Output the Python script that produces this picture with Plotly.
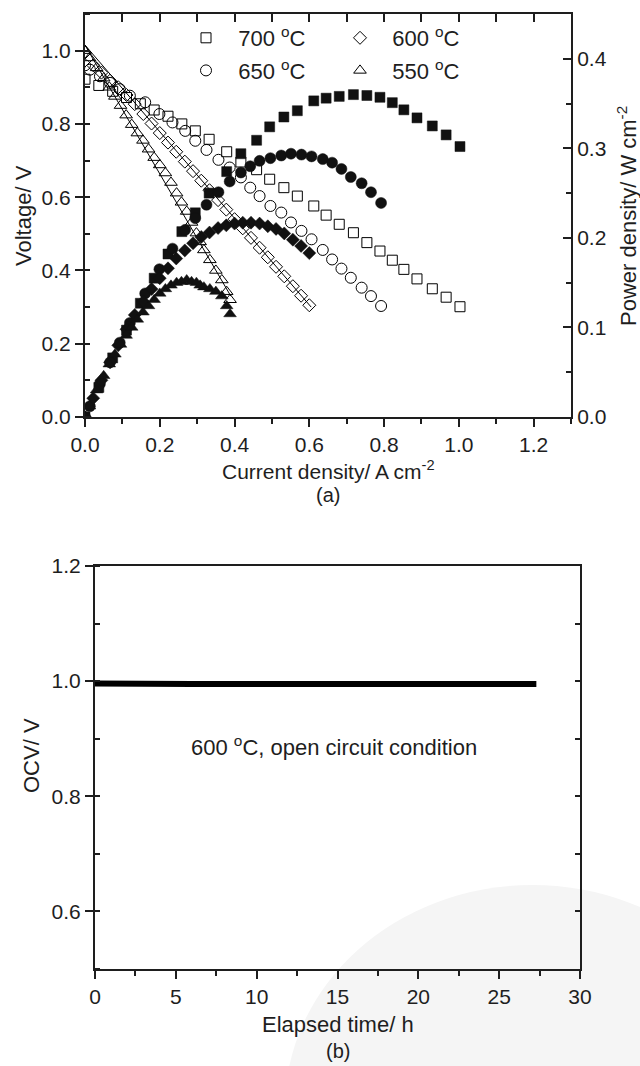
import plotly.graph_objects as go

W, H = 640, 1066

# ---------------- data (a) ----------------
i700 = [0.000, 0.037, 0.074, 0.111, 0.148, 0.185, 0.222, 0.259, 0.295, 0.332, 0.379, 0.417, 0.459, 0.494,
        0.532, 0.568, 0.612, 0.645, 0.680, 0.718, 0.754, 0.789, 0.822, 0.853, 0.888, 0.929, 0.966, 1.003]
v700 = [0.922, 0.905, 0.889, 0.872, 0.855, 0.838, 0.821, 0.800, 0.781, 0.758, 0.724, 0.696, 0.675, 0.649,
        0.626, 0.603, 0.576, 0.551, 0.526, 0.503, 0.476, 0.453, 0.428, 0.403, 0.377, 0.350, 0.327, 0.301]
p700 = [0.000, 0.033, 0.066, 0.097, 0.127, 0.155, 0.182, 0.207, 0.228, 0.250, 0.274, 0.294, 0.309, 0.324,
        0.335, 0.342, 0.353, 0.356, 0.358, 0.360, 0.359, 0.357, 0.351, 0.343, 0.334, 0.325, 0.315, 0.302]

i650 = [0.000, 0.013, 0.040, 0.067, 0.093, 0.120, 0.161, 0.199, 0.234, 0.268, 0.295, 0.325, 0.357, 0.387,
        0.417, 0.442, 0.467, 0.496, 0.525, 0.551, 0.579, 0.606, 0.636, 0.661, 0.686, 0.711, 0.740, 0.765, 0.792]
v650 = [0.960, 0.948, 0.930, 0.912, 0.895, 0.877, 0.859, 0.827, 0.804, 0.781, 0.754, 0.729, 0.702, 0.681,
        0.654, 0.626, 0.603, 0.576, 0.558, 0.531, 0.508, 0.485, 0.456, 0.430, 0.405, 0.380, 0.353, 0.330, 0.303]
p650 = [0.000, 0.012, 0.037, 0.061, 0.083, 0.105, 0.138, 0.165, 0.188, 0.209, 0.222, 0.237, 0.251, 0.263,
        0.273, 0.280, 0.286, 0.289, 0.292, 0.294, 0.293, 0.291, 0.288, 0.284, 0.277, 0.268, 0.261, 0.251, 0.239]

i600 = [0.000, 0.022, 0.044, 0.067, 0.089, 0.111, 0.133, 0.156, 0.178, 0.200, 0.222, 0.244, 0.267, 0.289,
        0.311, 0.333, 0.356, 0.378, 0.400, 0.422, 0.444, 0.467, 0.489, 0.511, 0.533, 0.556, 0.578, 0.600]
v600 = [0.995, 0.960, 0.940, 0.918, 0.900, 0.879, 0.854, 0.827, 0.801, 0.775, 0.749, 0.724, 0.697, 0.671,
        0.645, 0.619, 0.592, 0.566, 0.540, 0.515, 0.489, 0.462, 0.436, 0.410, 0.384, 0.357, 0.331, 0.305]
p600 = [0.000, 0.021, 0.041, 0.061, 0.080, 0.098, 0.114, 0.129, 0.143, 0.155, 0.166, 0.177, 0.186, 0.194,
        0.201, 0.206, 0.211, 0.214, 0.216, 0.217, 0.217, 0.216, 0.213, 0.210, 0.205, 0.198, 0.191, 0.183]

i550 = [0.000, 0.012, 0.031, 0.050, 0.065, 0.080, 0.095, 0.110, 0.125, 0.140, 0.155, 0.170, 0.185, 0.200,
        0.215, 0.230, 0.245, 0.258, 0.272, 0.285, 0.298, 0.308, 0.318, 0.334, 0.350, 0.366, 0.379, 0.388]
v550 = [1.000, 0.980, 0.953, 0.925, 0.900, 0.875, 0.850, 0.824, 0.798, 0.775, 0.755, 0.731, 0.708, 0.688,
        0.666, 0.640, 0.611, 0.586, 0.561, 0.531, 0.502, 0.478, 0.456, 0.429, 0.400, 0.374, 0.342, 0.320]
p550 = [0.000, 0.012, 0.030, 0.046, 0.059, 0.070, 0.081, 0.091, 0.100, 0.109, 0.117, 0.124, 0.131, 0.138,
        0.143, 0.147, 0.150, 0.151, 0.153, 0.151, 0.150, 0.147, 0.145, 0.143, 0.140, 0.135, 0.124, 0.115]

fit600_i = [0.000, 0.605]
fit600_v = [1.015, 0.300]
fit550_i = [0.000, 0.390]
fit550_v = [1.015, 0.330]

legend_names = ["700 <sup>o</sup>C", "650 <sup>o</sup>C", "600 <sup>o</sup>C", "550 <sup>o</sup>C"]

# ---------------- data (b) ----------------
t_h = [0.0, 2.0, 4.0, 6.0, 8.0, 10.0, 12.0, 14.0, 16.0, 18.0, 20.0, 22.0, 24.0, 26.0, 27.3]
ocv = [0.996, 0.995, 0.996, 0.995, 0.995, 0.996, 0.995, 0.995, 0.996, 0.995, 0.995, 0.995, 0.995, 0.995, 0.995]

# ---------------- figure ----------------
FONT = "Liberation Sans, Arial, Helvetica, sans-serif"
AX = "#1e1e1e"
NB = "\u00a0\u00a0"

def px(p):
    return p / W

def py(p):
    return 1 - p / H

fig = go.Figure()

open_specs = [
    (i700, v700, "square-open", 10, legend_names[0], "legend"),
    (i650, v650, "circle-open", 11, legend_names[1], "legend"),
    (i600, v600, "diamond-open", 10, legend_names[2], "legend2"),
    (i550, v550, "triangle-up-open", 11, legend_names[3], "legend2"),
]
for k, (xx, yy, sym, sz, nm, lg) in enumerate(open_specs):
    fig.add_trace(go.Scatter(
        x=xx, y=yy, mode="markers", name=NB + nm, legend=lg, legendgroup="g%d" % k,
        marker=dict(symbol=sym, size=sz, color="black", line=dict(width=1, color="black")),
        xaxis="x", yaxis="y", hoverinfo="skip"))

for xx, yy in [(fit600_i, fit600_v), (fit550_i, fit550_v)]:
    fig.add_trace(go.Scatter(x=xx, y=yy, mode="lines", line=dict(color="black", width=1),
                             showlegend=False, xaxis="x", yaxis="y", hoverinfo="skip"))

filled_specs = [
    (i700, p700, "square", 10),
    (i650, p650, "circle", 11),
    (i600, p600, "diamond", 10),
    (i550, p550, "triangle-up", 11),
]
for xx, yy, sym, sz in filled_specs:
    fig.add_trace(go.Scatter(
        x=xx, y=yy, mode="markers", showlegend=False,
        marker=dict(symbol=sym, size=sz, color="#111111", line=dict(width=0.5, color="#111111")),
        xaxis="x", yaxis="y2", hoverinfo="skip"))

# dummy traces so overlay axes are drawn
fig.add_trace(go.Scatter(x=[0.5], y=[0.5], mode="markers", marker=dict(opacity=0), showlegend=False,
                         xaxis="x3", yaxis="y", hoverinfo="skip"))

fig.add_trace(go.Scatter(x=t_h, y=ocv, mode="lines", line=dict(color="black", width=6),
                         showlegend=False, xaxis="x2", yaxis="y3", hoverinfo="skip"))
fig.add_trace(go.Scatter(x=[5], y=[0.7], mode="markers", marker=dict(opacity=0), showlegend=False,
                         xaxis="x2", yaxis="y4", hoverinfo="skip"))

tickfont = dict(family=FONT, size=21, color=AX)
common = dict(showgrid=False, zeroline=False, showline=True, linecolor=AX, linewidth=2,
              tickcolor=AX, tickwidth=1.5, tickfont=tickfont, automargin=False)

fig.update_layout(
    width=W, height=H, margin=dict(l=0, r=0, t=0, b=0, autoexpand=False),
    paper_bgcolor="white", plot_bgcolor="rgba(0,0,0,0)",
    font=dict(family=FONT, color=AX),
    xaxis=dict(domain=[px(85), px(571)], anchor="y", range=[0, 1.3], tick0=0, dtick=0.2,
               tickformat=".1f", ticks="outside", ticklen=8,
               minor=dict(dtick=0.1, ticks="outside", ticklen=5, tickcolor=AX, tickwidth=1.5), **common),
    xaxis3=dict(overlaying="x", side="top", anchor="y", range=[0, 1.3], tick0=0, dtick=0.1,
                ticks="inside", ticklen=8, showticklabels=False, **common),
    yaxis=dict(domain=[py(417), py(14)], anchor="x", range=[0, 1.1], tick0=0, dtick=0.2,
               tickformat=".1f", ticks="outside", ticklen=8,
               minor=dict(dtick=0.1, ticks="inside", ticklen=5, tickcolor=AX, tickwidth=1.5), **common),
    yaxis2=dict(overlaying="y", side="right", anchor="x", range=[0, 0.45], tick0=0, dtick=0.1,
                tickformat=".1f", ticks="inside", ticklen=8,
                minor=dict(dtick=0.05, ticks="inside", ticklen=5, tickcolor=AX, tickwidth=1.5), **common),
    xaxis2=dict(domain=[px(95), px(580)], anchor="y3", range=[0, 30], tick0=0, dtick=5,
                ticks="outside", ticklen=8, mirror=True,
                minor=dict(dtick=2.5, ticks="outside", ticklen=5, tickcolor=AX, tickwidth=1.5), **common),
    yaxis3=dict(domain=[py(969), py(566)], anchor="x2", range=[0.5, 1.2], tick0=0, dtick=0.2,
                tickformat=".1f", ticks="outside", ticklen=8,
                minor=dict(dtick=0.1, ticks="inside", ticklen=5, tickcolor=AX, tickwidth=1.5), **common),
    yaxis4=dict(overlaying="y3", side="right", anchor="x2", range=[0.5, 1.2], tick0=0, dtick=0.1,
                ticks="inside", ticklen=5, showticklabels=False, **common),
    legend=dict(x=px(186), y=py(17), xanchor="left", yanchor="top", bgcolor="rgba(0,0,0,0)",
                font=dict(family=FONT, size=22, color=AX), tracegroupgap=1, itemwidth=30),
    legend2=dict(x=px(340), y=py(17), xanchor="left", yanchor="top", bgcolor="rgba(0,0,0,0)",
                 font=dict(family=FONT, size=22, color=AX), tracegroupgap=1, itemwidth=30),
    shapes=[dict(type="circle", xref="paper", yref="paper", x0=px(285), x1=px(780),
                 y0=py(1330), y1=py(885), fillcolor="#f5f5f5", line=dict(width=0), layer="below")],
)

def ann(text, x, y, size=22, angle=0):
    fig.add_annotation(text=text, x=px(x), y=py(y), xref="paper", yref="paper", showarrow=False,
                       xanchor="center", yanchor="middle", textangle=angle,
                       font=dict(family=FONT, size=size, color=AX))

ann("Current density/ A cm<sup>-2</sup>", 328, 470, 21)
ann("(a)", 328, 495, 20)
ann("Voltage/ V", 24, 216, 22, -90)
ann("Power density/ W cm<sup>-2</sup>", 627, 216, 22, -90)
ann("OCV/ V", 31, 756, 22, -90)
ann("Elapsed time/ h", 338, 1024, 22)
ann("(b)", 338, 1051, 20)
ann("600 <sup>o</sup>C, open circuit condition", 334, 746, 22)

fig.write_html("out.html")
